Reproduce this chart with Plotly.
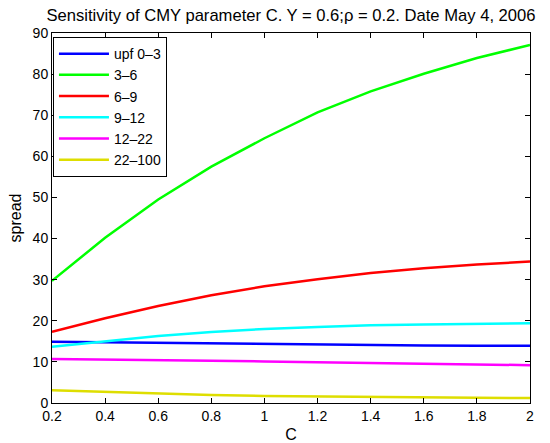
import plotly.graph_objects as go

C = [0.2, 0.4, 0.6, 0.8, 1.0, 1.2, 1.4, 1.6, 1.8, 2.0]

upf_0_3 = [14.9, 14.75, 14.6, 14.45, 14.3, 14.2, 14.1, 14.0, 13.95, 13.9]
s_3_6 = [29.7, 40.2, 49.5, 57.5, 64.4, 70.7, 75.8, 80.1, 83.9, 87.1]
s_6_9 = [17.3, 20.6, 23.6, 26.2, 28.4, 30.1, 31.6, 32.8, 33.7, 34.4]
s_9_12 = [13.7, 15.0, 16.3, 17.3, 18.0, 18.5, 18.9, 19.1, 19.3, 19.4]
s_12_22 = [10.7, 10.6, 10.45, 10.3, 10.1, 9.95, 9.8, 9.6, 9.4, 9.2]
s_22_100 = [3.1, 2.7, 2.3, 1.95, 1.7, 1.55, 1.45, 1.35, 1.25, 1.2]

names = ["upf 0\u20133", "3\u20136", "6\u20139", "9\u201312", "12\u201322", "22\u2013100"]
series = [upf_0_3, s_3_6, s_6_9, s_9_12, s_12_22, s_22_100]
colors = ["#0000ff", "#00ff00", "#ff0000", "#00ffff", "#ff00ff", "#dede00"]

x_ticks = [0.2, 0.4, 0.6, 0.8, 1, 1.2, 1.4, 1.6, 1.8, 2]
x_tick_labels = ["0.2", "0.4", "0.6", "0.8", "1", "1.2", "1.4", "1.6", "1.8", "2"]
y_ticks = [0, 10, 20, 30, 40, 50, 60, 70, 80, 90]

FAM = "Liberation Sans, Arial, sans-serif"

fig = go.Figure()
for n, s, c in zip(names, series, colors):
    fig.add_trace(go.Scatter(x=C, y=s, mode="lines", name=n,
                             line=dict(color=c, width=2.5)))

tickfont = dict(family=FAM, size=14, color="black")
axis_common = dict(showgrid=False, zeroline=False, showline=True, linecolor="black",
                   linewidth=1, mirror="ticks", ticks="inside", ticklen=5,
                   tickcolor="black", tickfont=tickfont)

fig.update_layout(
    width=550, height=443,
    margin=dict(l=52, r=20, t=33, b=40),
    paper_bgcolor="white", plot_bgcolor="white",
    font=dict(family=FAM, size=14, color="black"),
    title=dict(text="Sensitivity of CMY parameter C. Y = 0.6;\u03c1 = 0.2. Date May 4, 2006",
               x=0.5, xref="paper", xanchor="center", y=1 - 15 / 443, yref="container",
               yanchor="middle", font=dict(family=FAM, size=16.6, color="black")),
    xaxis=dict(range=[0.2, 2], tickvals=x_ticks, ticktext=x_tick_labels, automargin=False,
               title=dict(text="C", font=dict(family=FAM, size=16)), **axis_common),
    yaxis=dict(range=[0, 90], tickvals=y_ticks, automargin=True,
               title=dict(text="spread", standoff=7, font=dict(family=FAM, size=16)), **axis_common),
    legend=dict(x=0.002, y=0.989, xanchor="left", yanchor="top",
                bgcolor="white", bordercolor="black", borderwidth=1,
                font=dict(family=FAM, size=14, color="black"),
                tracegroupgap=0, itemwidth=50),
    showlegend=True,
)

fig.write_html("out.html", config={"displayModeBar": False},
               post_script="document.body.style.margin='0';document.body.style.padding='0';")
